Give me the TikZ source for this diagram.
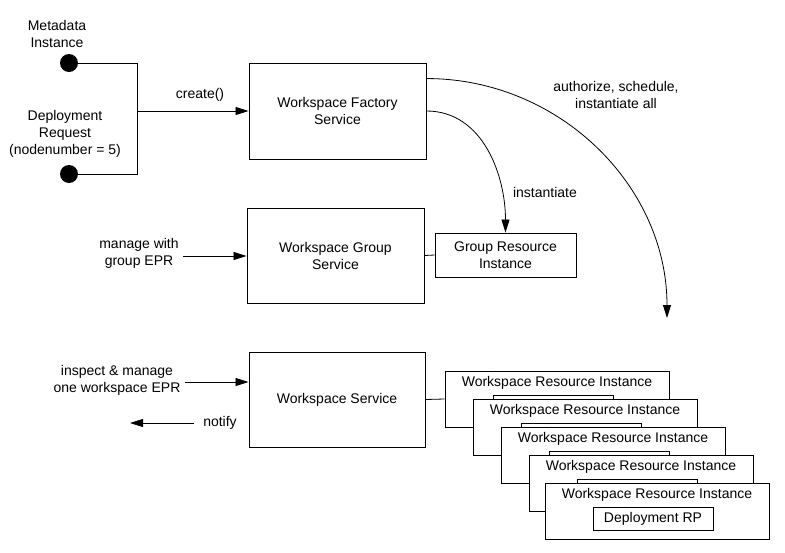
\documentclass[tikz,border=0pt]{standalone}
\usepackage{fontspec}
\setmainfont{Liberation Sans}
\usetikzlibrary{arrows.meta}

\tikzset{
  txt/.style={font=\fontsize{14}{17}\selectfont},
  box/.style={txt, draw, line width=0.9pt, fill=white, align=center, inner sep=0pt},
  lbl/.style={txt, align=center, inner sep=0pt},
  dot/.style={circle, fill=black, minimum size=18pt, inner sep=0pt},
  link/.style={line width=0.8pt},
  arr/.style={line width=0.8pt, -{Triangle[length=13pt,width=8pt]}},
}

\begin{document}
\begin{tikzpicture}[x=1pt,y=-1pt]
\useasboundingbox (0,0) rectangle (785,552);

% inputs
\node[lbl] (metalbl) at (57,34) {Metadata\\Instance};
\node[lbl] (reqlbl) at (65,134) {Deployment\\Request\\(nodenumber = 5)};
\node[dot] (meta) at (69,63) {};
\node[dot] (req) at (69,174) {};
\coordinate (jtop) at (137,63);
\coordinate (jbot) at (137,174);
\coordinate (join) at (137,111);
\draw[link] (meta) -- (jtop) -- (jbot) -- (req);

% services
\node[box, minimum width=177pt, minimum height=96pt] (factory) at (337.5,111) {Workspace Factory\\Service};
\node[box, minimum width=177pt, minimum height=95pt] (gsvc) at (335.5,255.5) {Workspace Group\\Service};
\node[box, minimum width=141pt, minimum height=44pt] (gres) at (505.5,255) {Group Resource\\Instance};
\node[box, minimum width=176pt, minimum height=95pt] (wsvc) at (337,399.5) {Workspace Service};

\draw[arr] (join) -- (factory.west);
\node[lbl] (createlbl) at (200,95) {create()};

\coordinate (alltip) at (667,318);
\draw[arr] ([yshift=-16pt]factory.north east) to[out=0,in=90] (alltip);
\node[lbl] (alllbl) at (616,95) {authorize, schedule,\\instantiate all};
\draw[arr] (factory.east) to[out=0,in=90] (gres.north);
\node[lbl] (instlbl) at (545,192) {instantiate};
\draw[link] (gsvc.east) -- (gres.west);

\node[lbl] (mglbl) at (139,253) {manage with\\group EPR};
\coordinate (mgstart) at (183,256);
\draw[arr] (mgstart) -- (gsvc.west |- mgstart);

\node[lbl] (islbl) at (117,380) {inspect \& manage\\one workspace EPR};
\coordinate (isstart) at (185,382);
\draw[arr] (isstart) -- (wsvc.west |- isstart);

\node[lbl] (ntlbl) at (220,423) {notify};
\coordinate (ntstart) at (194,423);
\coordinate (ntend) at (130,423);
\draw[arr] (ntstart) -- (ntend);

% resource instances
\foreach \i/\x/\y/\t in {1/445/371/{}, 2/473/399/{}, 3/501/427/{}, 4/529/455/{}, 5/545/483/{Deployment RP}}{
  \node[box, minimum width=224pt, minimum height=56pt] (wri\i) at (\x+112,\y+28) {};
  \node[lbl] (wrilbl\i) at (\x+112,\y+12) {Workspace Resource Instance};
  \node[box, minimum width=120pt, minimum height=23pt] (rp\i) at (\x+108,\y+35.5) {\t};
}
\draw[link] (wsvc.east) -- (wri1.west);
\end{tikzpicture}
\end{document}
